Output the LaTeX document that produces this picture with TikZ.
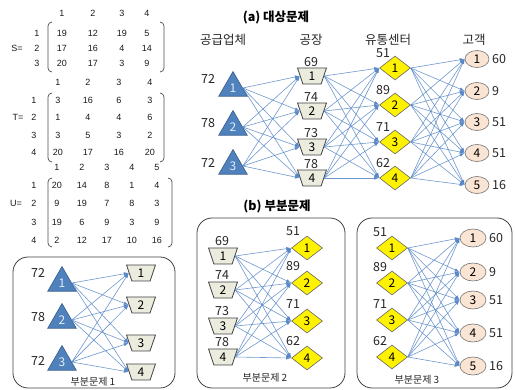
\documentclass[tikz,border=0pt]{standalone}
\usepackage{fontspec}
\setmainfont{Liberation Sans}
\newfontfamily\kr{Noto Sans CJK KR}
\usetikzlibrary{shapes.geometric,arrows.meta}
\definecolor{triblue}{RGB}{79,129,189}
\definecolor{triedge}{RGB}{56,93,138}
\definecolor{plantfill}{RGB}{235,236,222}
\definecolor{edgeblue}{RGB}{86,134,198}
\definecolor{custfill}{RGB}{250,228,212}
\tikzset{
  tri/.style={regular polygon, regular polygon sides=3, fill=triblue, draw=triedge, line width=0.6pt,
    minimum size=33pt, inner sep=0pt, text=white!85!triblue, font=\kr\fontsize{12}{12}\selectfont},
  plant/.style={trapezium, shape border rotate=180, trapezium left angle=77, trapezium right angle=77,
    trapezium stretches=true, minimum width=29pt, minimum height=16pt, inner sep=0pt,
    fill=plantfill, draw=black!75, line width=0.8pt, font=\kr\fontsize{12}{12}\selectfont},
  dc/.style={diamond, fill=yellow, draw=black!60, line width=0.6pt, minimum width=31pt, minimum height=24pt,
    inner sep=0pt, font=\kr\fontsize{12}{12}\selectfont},
  cust/.style={ellipse, fill=custfill, draw=black!55, line width=0.6pt, minimum width=24pt, minimum height=17pt,
    inner sep=0pt, font=\kr\fontsize{12}{12}\selectfont},
  custb/.style={cust, minimum width=26pt, minimum height=18pt},
  num/.style={font=\kr\fontsize{12.5}{13}\selectfont, inner sep=0pt, text=black!85},
  numw/.style={num, anchor=west},
  hdr/.style={font=\kr\fontsize{12.5}{13}\selectfont, inner sep=0pt, text=black!85},
  ttl/.style={font=\kr\bfseries\fontsize{12.5}{13}\selectfont, inner sep=0pt},
  sub/.style={font=\kr\fontsize{10}{11}\selectfont, inner sep=0pt, text=black!85},
  edge/.style={draw=edgeblue, line width=0.6pt, -{Latex[length=5pt,width=3.5pt]}, draw opacity=0.85},
  box/.style={draw=black!75, rounded corners=15pt, line width=0.8pt},
  mat/.style={font=\fontsize{9}{10}\selectfont, inner sep=0pt, text=black!90},
  paren/.style={draw=black!70, rounded corners=4pt, line width=0.7pt},
}
\begin{document}
\begin{tikzpicture}[x=1pt,y=-1pt]
\useasboundingbox (0,0) rectangle (515,390);

% ---------- Matrix S ----------
\node[mat] (sname) at (17,48) {S=};
\foreach \x [count=\c] in {62,93,122,147} \node[mat] (sh\c) at (\x,13) {\c};
\node[mat] (sr1) at (37,33) {1};
\node[mat] (sr2) at (37,48) {2};
\node[mat] (sr3) at (37,63) {3};
\foreach \x/\v [count=\c] in {62/19,93/12,122/19,147/5} \node[mat] (s1\c) at (\x,33) {\v};
\foreach \x/\v [count=\c] in {62/17,93/16,122/4,147/14} \node[mat] (s2\c) at (\x,48) {\v};
\foreach \x/\v [count=\c] in {62/20,93/17,122/3,147/9} \node[mat] (s3\c) at (\x,63) {\v};
\draw[paren] (52,22) -- (48,22) -- (48,72) -- (52,72);
\draw[paren] (160,22) -- (164,22) -- (164,72) -- (160,72);

% ---------- Matrix T ----------
\node[mat] (tname) at (18,117) {T=};
\foreach \x [count=\c] in {58,88,119,150} \node[mat] (th\c) at (\x,82) {\c};
\node[mat] (tr1) at (34,100) {1};
\node[mat] (tr2) at (34,117) {2};
\node[mat] (tr3) at (34,135) {3};
\node[mat] (tr4) at (34,152) {4};
\foreach \x/\v [count=\c] in {58/3,88/16,119/6,150/3} \node[mat] (t1\c) at (\x,100) {\v};
\foreach \x/\v [count=\c] in {58/1,88/4,119/4,150/6} \node[mat] (t2\c) at (\x,117) {\v};
\foreach \x/\v [count=\c] in {58/3,88/5,119/3,150/2} \node[mat] (t3\c) at (\x,135) {\v};
\foreach \x/\v [count=\c] in {58/20,88/17,119/16,150/20} \node[mat] (t4\c) at (\x,152) {\v};
\draw[paren] (52,93) -- (48,93) -- (48,162) -- (52,162);
\draw[paren] (160,93) -- (164,93) -- (164,162) -- (160,162);

% ---------- Matrix U ----------
\node[mat] (uname) at (16,203) {U=};
\foreach \x [count=\c] in {57,82,107,132,157} \node[mat] (uh\c) at (\x,167) {\c};
\node[mat] (ur1) at (34,185) {1};
\node[mat] (ur2) at (34,203) {2};
\node[mat] (ur3) at (34,222) {3};
\node[mat] (ur4) at (34,240) {4};
\foreach \x/\v [count=\c] in {57/20,82/14,107/8,132/1,157/4} \node[mat] (u1\c) at (\x,185) {\v};
\foreach \x/\v [count=\c] in {57/9,82/19,107/7,132/8,157/3} \node[mat] (u2\c) at (\x,203) {\v};
\foreach \x/\v [count=\c] in {57/19,82/6,107/9,132/3,157/9} \node[mat] (u3\c) at (\x,222) {\v};
\foreach \x/\v [count=\c] in {57/2,82/12,107/17,132/10,157/16} \node[mat] (u4\c) at (\x,240) {\v};
\draw[paren] (52,178) -- (48,178) -- (48,247) -- (52,247);
\draw[paren] (168,178) -- (172,178) -- (172,247) -- (168,247);

% ---------- (a) top problem ----------
\node[ttl] (ta) at (276,18) {(a) 대상문제};
\node[hdr] (h1) at (223,40) {공급업체};
\node[hdr] (h2) at (311,40) {공장};
\node[hdr] (h3) at (388,40) {유통센터};
\node[hdr] (h4) at (474,40) {고객};

\foreach \y/\s/\l [count=\i] in {88/72/79,127/78/123,166/72/163} {
  \node[tri] (at\i) at (233,\y) {\i};
  \node[num] (lat\i) at (208,\l) {\s};
}
\foreach \y/\s [count=\i] in {76/69,111/74,147/73,178/78} {
  \node[plant] (ap\i) at (312,\y) {\i};
  \node[num] (lap\i) at (311,\y-14) {\s};
}
\foreach \y/\s [count=\i] in {68/51,105/89,142/71,178/62} {
  \node[dc] (ad\i) at (395,\y) {\i};
  \node[num] (lad\i) at (383,\y-15) {\s};
}
\foreach \y/\s [count=\i] in {59/60,91/9,122/51,153/51,185/16} {
  \node[cust] (ac\i) at (477,\y) {\i};
  \node[numw] (lac\i) at (492,\y) {\s};
}
\foreach \i in {1,2,3} \foreach \j in {1,2,3,4} \draw[edge] (at\i.east) -- (ap\j.west);
\foreach \i in {1,2,3,4} \foreach \j in {1,2,3,4} \draw[edge] (ap\i.east) -- (ad\j.west);
\foreach \i in {1,2,3,4} \foreach \j in {1,2,3,4,5} \draw[edge] (ad\i.east) -- (ac\j.west);

% ---------- (b) sub problems ----------
\node[ttl] (tb) at (277,207) {(b) 부분문제};

% box 1
\draw[box] (13,257) rectangle (175,388);
\foreach \y/\s/\l [count=\i] in {283/72/273,320/78/317,362/72/361} {
  \node[tri] (bt\i) at (62,\y) {\i};
  \node[num] (lbt\i) at (38,\l) {\s};
}
\foreach \y [count=\i] in {273,305,343,372} \node[plant] (bp\i) at (141,\y) {\i};
\foreach \i in {1,2,3} \foreach \j in {1,2,3,4} \draw[edge] (bt\i.east) -- (bp\j.west);
\node[sub] (s1) at (93,382) {부분문제 1};

% box 2
\draw[box] (197,218) rectangle (345,388);
\foreach \y/\s [count=\i] in {256/69,290/74,326/73,357/78} {
  \node[plant] (cp\i) at (223,\y) {\i};
  \node[num] (lcp\i) at (222,\y-15) {\s};
}
\foreach \y/\s [count=\i] in {248/51,283/89,321/71,358/62} {
  \node[dc] (cd\i) at (307,\y) {\i};
  \node[num] (lcd\i) at (293,\y-17) {\s};
}
\foreach \i in {1,2,3,4} \foreach \j in {1,2,3,4} \draw[edge] (cp\i.east) -- (cd\j.west);
\node[sub] (s2) at (265,378) {부분문제 2};

% box 3
\draw[box] (357,218) rectangle (512,388);
\foreach \y/\s [count=\i] in {248/51,283/89,320/71,357/62} {
  \node[dc] (dd\i) at (392,\y) {\i};
  \node[num] (ldd\i) at (380,\y-16) {\s};
}
\foreach \y/\s [count=\i] in {238/60,272/9,300/51,333/51,366/16} {
  \node[custb] (dc\i) at (473,\y) {\i};
  \node[numw] (ldc\i) at (489,\y) {\s};
}
\foreach \i in {1,2,3,4} \foreach \j in {1,2,3,4,5} \draw[edge] (dd\i.east) -- (dc\j.west);
\node[sub] (s3) at (417,380) {부분문제 3};
\end{tikzpicture}
\end{document}
